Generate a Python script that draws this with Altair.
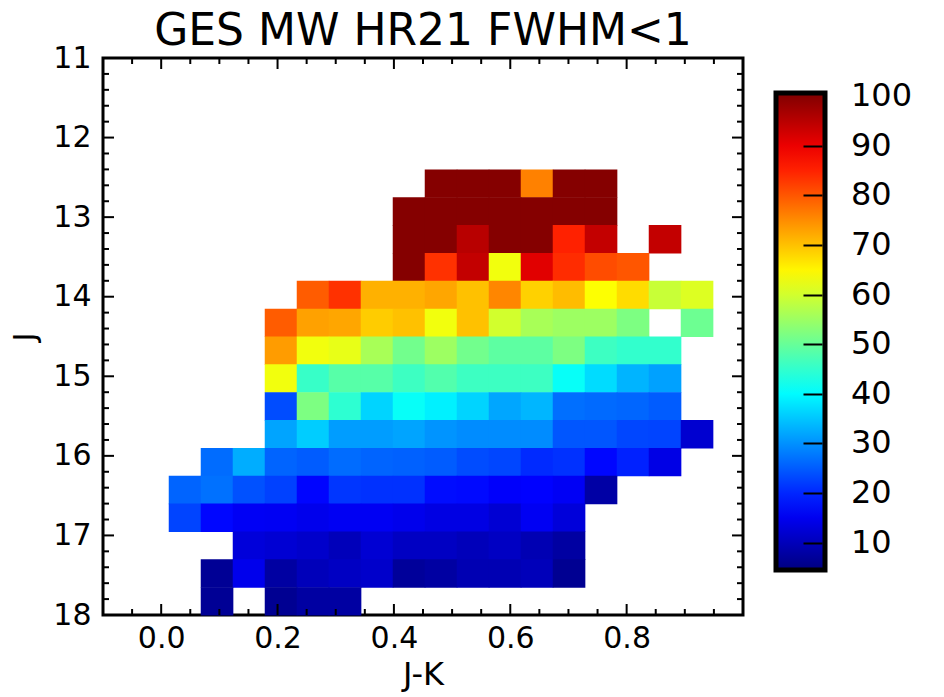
import altair as alt
import pandas as pd

# Bin edges: J-K colour bins (x) and J magnitude bins (y)
JK_EDGES = [0.013, 0.068, 0.123, 0.178, 0.233, 0.288, 0.343, 0.398, 0.453,
            0.508, 0.563, 0.618, 0.673, 0.728, 0.783, 0.838, 0.893, 0.948]
J_EDGES = [12.40, 12.75, 13.10, 13.45, 13.80, 14.15, 14.50, 14.85, 15.20,
           15.55, 15.90, 16.25, 16.60, 16.95, 17.30, 17.65, 18.00]

# Percentage per cell: one list per J bin (bright to faint), one entry per J-K bin
_ = None
ROW_J12_40 = [_, _, _, _, _, _, _, _, 100, 100, 100, 76, 100, 100, _, _, _]
ROW_J12_75 = [_, _, _, _, _, _, _, 100, 100, 100, 100, 100, 100, 100, _, _, _]
ROW_J13_10 = [_, _, _, _, _, _, _, 100, 100, 95, 100, 100, 85, 94, _, 94, _]
ROW_J13_45 = [_, _, _, _, _, _, _, 100, 83.5, 94, 63, 91, 84, 81, 80, _, _]
ROW_J13_80 = [_, _, _, _, 79.5, 83.5, 71.5, 71.5, 72.5, 70, 75.5, 68.5, 70.5, 64, 67.5, 59, 61]
ROW_J14_15 = [_, _, _, 79.5, 73, 72.5, 69, 70, 63, 70, 60, 56, 55, 55, 52, _, 50.5]
ROW_J14_50 = [_, _, _, 73.5, 63, 62, 56, 51, 55, 51, 49, 49, 52, 46, 45, 45, _]
ROW_J14_85 = [_, _, _, 63, 45.5, 48.5, 48.5, 46, 48, 46, 46, 46, 41, 37, 33.3, 31.5, _]
ROW_J15_20 = [_, _, _, 23.5, 52, 44.5, 36.3, 41, 39, 36.3, 32, 33.5, 26.8, 26.3, 26, 25, _]
ROW_J15_55 = [_, _, _, 31.8, 35.6, 31.1, 31.1, 31.8, 30.3, 29.5, 29.5, 29.5, 24.5, 24.5, 23, 22.8, 12]
ROW_J15_90 = [_, 26.5, 32.6, 25.8, 25, 26.5, 25.8, 25.5, 25, 23.5, 23, 20.3, 21, 17, 19.5, 14, _]
ROW_J16_25 = [25.8, 27, 24, 22.5, 16.8, 21.5, 21, 21, 17.5, 17.2, 16, 16.5, 15.5, 8, _, _, _]
ROW_J16_60 = [22.8, 17, 15.5, 15.3, 14.6, 15.3, 15.3, 14.6, 13.8, 13.8, 12.3, 15.3, 13, _, _, _, _]
ROW_J16_95 = [_, _, 13, 12.3, 11.6, 10, 12.3, 10.8, 10.8, 10, 10.8, 9.3, 7.8, _, _, _, _]
ROW_J17_30 = [_, 6.5, 14.6, 7.8, 10, 10.8, 11.6, 7, 7.8, 9.3, 9.3, 10, 6.3, _, _, _, _]
ROW_J17_65 = [_, 6.5, _, 6.3, 7.8, 7.8, _, _, _, _, _, _, _, _, _, _, _]

PERCENT = [ROW_J12_40, ROW_J12_75, ROW_J13_10, ROW_J13_45, ROW_J13_80, ROW_J14_15,
           ROW_J14_50, ROW_J14_85, ROW_J15_20, ROW_J15_55, ROW_J15_90, ROW_J16_25,
           ROW_J16_60, ROW_J16_95, ROW_J17_30, ROW_J17_65]

# Axis tick values
X_LABELS = [0.0, 0.2, 0.4, 0.6, 0.8]
X_MINOR = [-0.05, 0.05, 0.10, 0.15, 0.25, 0.30, 0.35, 0.45, 0.50, 0.55,
           0.65, 0.70, 0.75, 0.85, 0.90, 0.95]
Y_LABELS = [11, 12, 13, 14, 15, 16, 17, 18]
Y_MAJOR = [12, 13, 14, 15, 16, 17]
Y_MINOR = [11.2, 11.4, 11.6, 11.8, 12.2, 12.4, 12.6, 12.8, 13.2, 13.4, 13.6, 13.8,
           14.2, 14.4, 14.6, 14.8, 15.2, 15.4, 15.6, 15.8, 16.2, 16.4, 16.6, 16.8,
           17.2, 17.4, 17.6, 17.8]
CBAR_LABELS = [10, 20, 30, 40, 50, 60, 70, 80, 90, 100]
CBAR_TICKS = [10, 20, 30, 40, 50, 60, 70, 80, 90]
TITLE = "GES MW HR21 FWHM<1"

# Jet colour table
CMAP_DOMAIN = [4.5, 16.4, 40.3, 64.2, 88.1, 100.6]
CMAP_RANGE = ["#00007f", "#0000ff", "#00ffff", "#ffff00", "#ff0000", "#7f0000"]

W, H = 640, 557
FONT = "DejaVu Sans"
CBAR_TOP, CBAR_LEN = 35, 477

records = []
for r, vals in enumerate(PERCENT):
    for c, v in enumerate(vals):
        if v is None:
            continue
        records.append({"jk0": JK_EDGES[c], "jk1": JK_EDGES[c + 1],
                        "j0": J_EDGES[r], "j1": J_EDGES[r + 1], "pct": v})
cells = pd.DataFrame(records)

xs = alt.Scale(domain=[-0.1, 1.0], nice=False, zero=False)
ys = alt.Scale(domain=[11, 18], reverse=True, nice=False, zero=False)
cs = alt.Scale(domain=CMAP_DOMAIN, range=CMAP_RANGE, interpolate="rgb")

# cells overlap by a fraction of a pixel so no seams show between them
heat = alt.Chart(cells).mark_rect(x2Offset=0.6, y2Offset=0.6).encode(
    x=alt.X("jk0:Q", scale=xs, axis=alt.Axis(
        values=X_LABELS, format=".1f", ticks=False, domain=False, grid=False,
        labelFont=FONT, labelFontSize=30, labelColor="black", labelPadding=8,
        labelFlush=False, labelOverlap=False,
        title="J-K", titleFont=FONT, titleFontSize=32, titleFontWeight="normal",
        titleColor="black", titleX=W / 2, titleY=59, titleBaseline="middle",
        titleAlign="center")),
    x2="jk1:Q",
    y=alt.Y("j0:Q", scale=ys, axis=alt.Axis(
        values=Y_LABELS, format="d", ticks=False, domain=False, grid=False,
        labelFont=FONT, labelFontSize=30, labelColor="black", labelPadding=12,
        labelFlush=False, labelOverlap=False,
        title="J", titleFont=FONT, titleFontSize=30, titleFontWeight="normal",
        titleColor="black", titleX=-78, titleY=H / 2, titleAngle=-90,
        titleBaseline="middle", titleAlign="center")),
    y2="j1:Q",
    color=alt.Color("pct:Q", scale=cs, legend=alt.Legend(
        type="gradient", orient="none", legendX=673, legendY=CBAR_TOP,
        direction="vertical", gradientLength=CBAR_LEN, gradientThickness=49,
        gradientStrokeColor="black", gradientStrokeWidth=5,
        values=CBAR_LABELS, labelFont=FONT, labelFontSize=32, labelColor="black",
        labelOffset=26, labelOverlap=False, labelBaseline="middle",
        labelAlign="left", title=None)),
)


def x_ticks(values, length):
    base = alt.Chart(pd.DataFrame({"t": values})).mark_rule(color="black", strokeWidth=2)
    xenc = alt.X("t:Q", scale=xs, axis=None)
    bottom = base.encode(x=xenc, y=alt.value(H), y2=alt.value(H - length))
    top = base.encode(x=xenc, y=alt.value(0), y2=alt.value(length))
    return [bottom, top]


def y_ticks(values, length):
    base = alt.Chart(pd.DataFrame({"t": values})).mark_rule(color="black", strokeWidth=2)
    yenc = alt.Y("t:Q", scale=ys, axis=None)
    left = base.encode(y=yenc, x=alt.value(0), x2=alt.value(length))
    right = base.encode(y=yenc, x=alt.value(W), x2=alt.value(W - length))
    return [left, right]


# tick marks inside the colour bar, drawn by an axis placed above the legend
cbar_ticks = alt.Chart(pd.DataFrame({"t": CBAR_TICKS})).mark_rule(opacity=0).encode(
    y=alt.Y("t:Q",
            scale=alt.Scale(domain=[CMAP_DOMAIN[0], CMAP_DOMAIN[-1]],
                            range=[CBAR_TOP + CBAR_LEN, CBAR_TOP]),
            axis=alt.Axis(orient="right", offset=60, values=CBAR_TICKS,
                          labels=False, domain=False, grid=False, title=None,
                          tickSize=19, tickWidth=2, tickColor="black", zindex=2)),
    x=alt.value(701), x2=alt.value(720),
)

# plot title
title = alt.Chart(pd.DataFrame({"t": [TITLE]})).mark_text(
    font=FONT, fontSize=44, color="black", align="center", baseline="alphabetic"
).encode(text="t:N", x=alt.value(W / 2), y=alt.value(-13))

layers = [heat]
layers += x_ticks(X_LABELS, 11) + x_ticks(X_MINOR, 6)
layers += y_ticks(Y_MAJOR, 11) + y_ticks(Y_MINOR, 6)
layers += [cbar_ticks, title]

chart = alt.layer(*layers).resolve_scale(
    x="independent", y="independent"
).properties(
    width=W, height=H,
    autosize=alt.AutoSizeParams(type="none"),
    padding={"left": 103, "top": 58, "right": 201, "bottom": 82},
    background="white",
).configure_view(stroke="black", strokeWidth=3)

chart.save("out.html", embed_options={"renderer": "svg", "actions": False})
